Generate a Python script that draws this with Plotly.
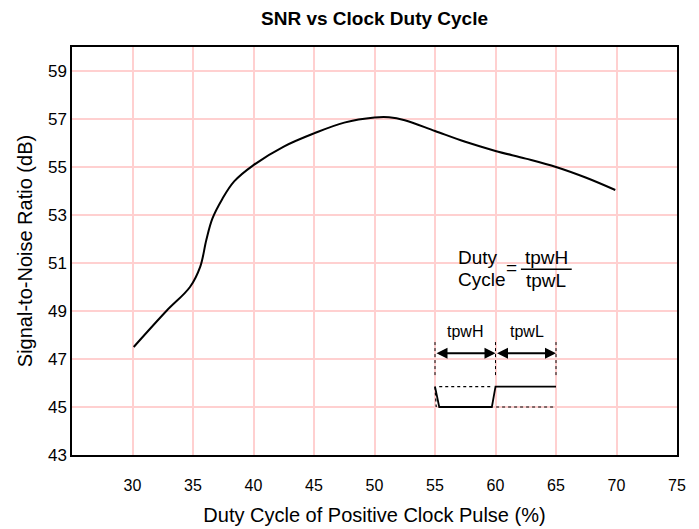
import plotly.graph_objects as go

# ---- data ----
duty_cycle = [30.1, 32.8, 34.75, 35.6, 36.1, 36.6, 37.4, 38.4, 40.0, 42.5, 45.0, 47.5,
              50.0, 51.2, 52.5, 55.0, 57.5, 60.0, 62.5, 65.0, 67.5, 69.9]
snr_db = [47.5, 49.0, 50.0, 50.85, 51.96, 52.85, 53.65, 54.4, 55.08, 55.85, 56.4, 56.85,
          57.06, 57.07, 56.95, 56.5, 56.05, 55.67, 55.35, 55.0, 54.55, 54.04]

x_ticks = [30, 35, 40, 45, 50, 55, 60, 65, 70, 75]
y_ticks = [43, 45, 47, 49, 51, 53, 55, 57, 59]

# inset diagram (duty-cycle definition), in data units
pulse_edges = [55, 60, 65]
edge_y = [46.33, 47.79]
arrow_y = 47.24
pulse_solid_x = [55.0, 55.35, 59.7, 60.0, 65.0]
pulse_solid_y = [45.85, 45.0, 45.0, 45.85, 45.85]
pulse_dot_x = [55.35, 59.7, None, 60.05, 65.0, None, 55.0, 55.1]
pulse_dot_y = [45.85, 45.85, None, 45.0, 45.0, None, 45.85, 45.0]

FONT = "Liberation Sans, Arial, sans-serif"
GRID = "#ffd0d0"

# page body has an 8px default margin, so the figure is sized to compensate
W, H = 691, 521

fig = go.Figure()

fig.add_trace(go.Scatter(x=duty_cycle, y=snr_db, mode="lines",
                         line=dict(color="black", width=2, shape="spline", smoothing=1.0),
                         showlegend=False, hoverinfo="skip"))

# dashed edge markers
ex, ey = [], []
for e in pulse_edges:
    ex += [e, e, None]
    ey += [edge_y[0], edge_y[1], None]
fig.add_trace(go.Scatter(x=ex, y=ey, mode="lines",
                         line=dict(color="black", width=1, dash="dot"),
                         showlegend=False, hoverinfo="skip"))
# pulse waveform
fig.add_trace(go.Scatter(x=pulse_solid_x, y=pulse_solid_y, mode="lines",
                         line=dict(color="black", width=1.8),
                         showlegend=False, hoverinfo="skip"))
fig.add_trace(go.Scatter(x=pulse_dot_x, y=pulse_dot_y, mode="lines",
                         line=dict(color="black", width=1.2, dash="dot"),
                         showlegend=False, hoverinfo="skip"))

# double arrows
for a, b in [(pulse_edges[0], pulse_edges[1]), (pulse_edges[1], pulse_edges[2])]:
    fig.add_annotation(x=b, y=arrow_y, ax=a, ay=arrow_y, xref="x", yref="y",
                       axref="x", ayref="y", text="", showarrow=True,
                       arrowside="end+start", arrowhead=2, arrowsize=1.1,
                       arrowwidth=2, arrowcolor="black", standoff=0, startstandoff=0)

fig.add_annotation(x=57.5, y=48.14, text="tpwH", showarrow=False,
                   font=dict(family=FONT, size=16, color="black"))
fig.add_annotation(x=62.6, y=48.14, text="tpwL", showarrow=False,
                   font=dict(family=FONT, size=16, color="black"))

# formula
fig.add_annotation(x=56.75, y=51.23, text="Duty", showarrow=False, xanchor="left",
                   font=dict(family=FONT, size=19, color="black"))
fig.add_annotation(x=56.75, y=50.31, text="Cycle", showarrow=False, xanchor="left",
                   font=dict(family=FONT, size=19, color="black"))
fig.add_annotation(x=61.3, y=50.8, text="=", showarrow=False,
                   font=dict(family=FONT, size=19, color="black"))
fig.add_annotation(x=64.2, y=51.23, text="tpwH", showarrow=False,
                   font=dict(family=FONT, size=19, color="black"))
fig.add_annotation(x=64.15, y=50.27, text="tpwL", showarrow=False,
                   font=dict(family=FONT, size=19, color="black"))
fig.add_shape(type="line", x0=62.1, x1=66.3, y0=50.74, y1=50.74, xref="x", yref="y",
              line=dict(color="black", width=1.5))

fig.update_layout(
    width=W, height=H,
    margin=dict(l=64, r=22, t=39, b=74, autoexpand=False),
    paper_bgcolor="white", plot_bgcolor="white",
    font=dict(family=FONT, color="black"),
    title=dict(text="<b>SNR vs Clock Duty Cycle</b>", x=0.5, xref="paper",
               y=1 - 10.5 / H, yref="container", yanchor="middle", xanchor="center",
               font=dict(family=FONT, size=19, color="black")),
    xaxis=dict(range=[25, 75], tickvals=x_ticks, ticks="", showgrid=True,
               gridcolor=GRID, gridwidth=1.5, zeroline=False, automargin=False,
               showline=True, linecolor="black", linewidth=1.5, mirror=True,
               tickfont=dict(family=FONT, size=16, color="black"),
               ticklabelstandoff=15,
               title=dict(text="Duty Cycle of Positive Clock Pulse (%)", standoff=15,
                          font=dict(family=FONT, size=20, color="black"))),
    yaxis=dict(range=[43, 60], tickvals=y_ticks, ticks="", showgrid=True,
               gridcolor=GRID, gridwidth=1.5, zeroline=False, automargin=False,
               showline=True, linecolor="black", linewidth=1.5, mirror=True,
               tickfont=dict(family=FONT, size=17, color="black"),
               title=dict(text="Signal-to-Noise Ratio (dB)", standoff=10,
                          font=dict(family=FONT, size=20, color="black"))),
)

fig.write_html("out.html")
